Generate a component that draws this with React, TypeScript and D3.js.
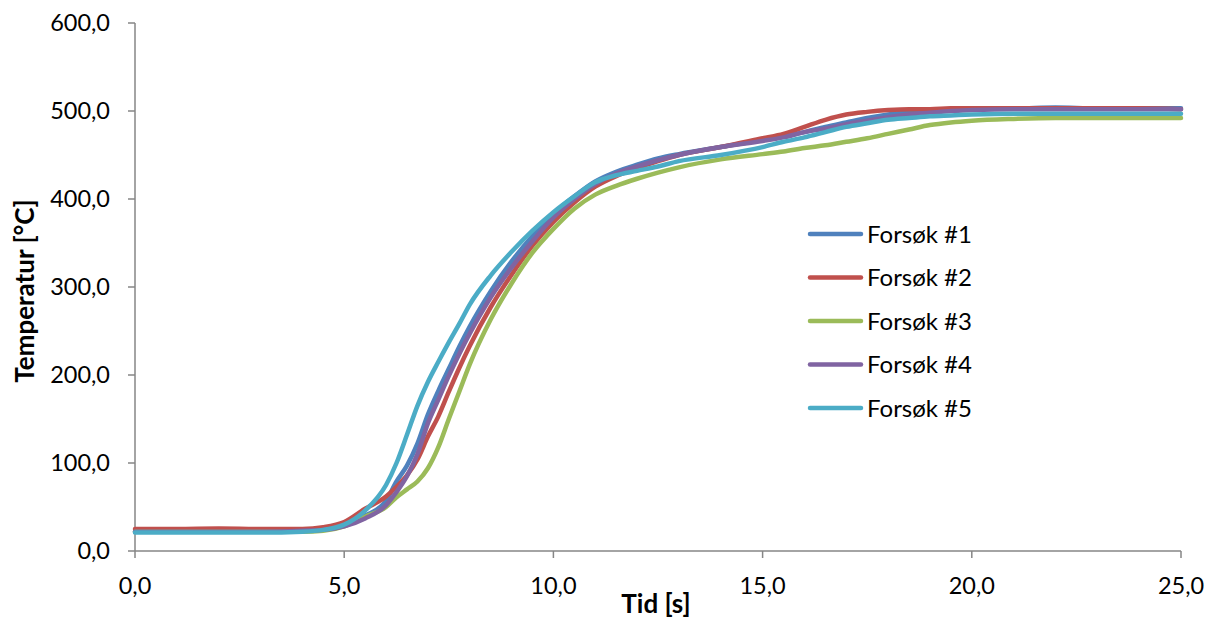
import React from "react";
import * as d3 from "d3";

const times = [0,1,2,3,4,4.5,5,5.5,6,6.25,6.5,6.75,7,7.25,7.5,7.75,8,8.5,9,9.5,10,10.5,11,11.5,12,12.5,13,14,15,15.5,16,16.5,17,17.5,18,18.5,19,19.5,20,21,22,23,24,25];

const forsok1 = [22,22,22,22,23,24,29,40,57,79,97,122,155,182,207,232,255,295,329,358,383,403,420,431,439,446,451,459,467,471,476,482,487,492,496,499,501,502,503,503,504,503,503,503];
const forsok2 = [25,25,25.5,25,25,27,33,48,62,73,86,104,130,153,181,208,233,277,314,347,374,396,414,426,435,443,450,459,469,474,482,490,496,499,501,502,502,503,503,503,503,503,503,502];
const forsok3 = [22,22,22,22,22,23,28,39,50,61,70,79,94,118,150,181,212,263,304,339,366,389,405,415,423,430,436,445,451,454,458,461,465,469,474,479,484,487,489,491,492,492,492,492];
const forsok4 = [22,22,22,22,23,24,28,37,52,67,85,110,145,172,199,224,247,288,322,352,379,400,417,429,437,444,450,459,466,470,476,480,485,489,493,496,498,500,501,502,502,502,502,502];
const forsok5 = [21,21,21,21,22,24,30,46,75,100,132,165,192,215,237,258,280,313,340,364,385,403,419,427,432,437,443,450,459,465,470,476,482,486,490,492,494,495,496,497,497,497,497,497];

const seriesNames = ["Forsøk #1","Forsøk #2","Forsøk #3","Forsøk #4","Forsøk #5"];
const seriesValues = [forsok1, forsok2, forsok3, forsok4, forsok5];
const colors = ["#4F81BD","#C0504D","#9BBB59","#8064A2","#4BACC6"];

const xTicks = [0,5,10,15,20,25];
const yTicks = [0,100,200,300,400,500,600];

const xTitle = "Tid [s]";
const yTitle = "Temperatur [°C]";

const W = 1209, H = 622;
const left = 135, right = 1181, top = 23, bottom = 551;
const FONT = "Lato, 'Open Sans', sans-serif";
const fmt = (v: number) => v.toFixed(1).replace(".", ",");

export default function App() {
  const x = d3.scaleLinear().domain([0, 25]).range([left, right]);
  const y = d3.scaleLinear().domain([0, 600]).range([bottom, top]);
  const line = d3.line<[number, number]>()
    .x(d => x(d[0]))
    .y(d => y(d[1]))
    .curve(d3.curveMonotoneX);
  const axisColor = "#868686";

  const legendY = [234, 277.5, 321, 364.5, 408];

  return (
    <svg width={W} height={H} style={{ position: "absolute", left: 0, top: 0, background: "#fff" }} fontFamily={FONT}>
      <rect x={0} y={0} width={W} height={H} fill="#fff" />
      <line x1={left} x2={left} y1={top} y2={bottom} stroke={axisColor} strokeWidth={1.5} />
      <line x1={left} x2={right} y1={bottom} y2={bottom} stroke={axisColor} strokeWidth={1.5} />
      {yTicks.map(t => (
        <g key={"y" + t}>
          <line x1={left - 7} x2={left} y1={y(t)} y2={y(t)} stroke={axisColor} strokeWidth={1.5} />
          <text x={110} y={y(t)} dy="0.36em" textAnchor="end" fontSize={23.5} fill="#000">{fmt(t)}</text>
        </g>
      ))}
      {xTicks.map(t => (
        <g key={"x" + t}>
          <line x1={x(t)} x2={x(t)} y1={bottom} y2={bottom + 7} stroke={axisColor} strokeWidth={1.5} />
          <text x={x(t)} y={594} textAnchor="middle" fontSize={23.5} fill="#000">{fmt(t)}</text>
        </g>
      ))}
      <text x={656} y={613} textAnchor="middle" fontSize={26} fontWeight="bold" fill="#000">{xTitle}</text>
      <text transform={`translate(34,291) rotate(-90)`} textAnchor="middle" fontSize={26} fontWeight="bold" fill="#000">{yTitle}</text>
      {seriesValues.map((vals, i) => (
        <path key={i} d={line(times.map((t, j) => [t, vals[j]] as [number, number])) || ""} fill="none" stroke={colors[i]} strokeWidth={4.5} strokeLinejoin="round" strokeLinecap="round" />
      ))}
      {seriesNames.map((n, i) => (
        <g key={n}>
          <line x1={810} x2={861} y1={legendY[i]} y2={legendY[i]} stroke={colors[i]} strokeWidth={4.5} strokeLinecap="round" />
          <text x={867} y={legendY[i]} dy="0.36em" fontSize={24} fill="#000">{n}</text>
        </g>
      ))}
    </svg>
  );
}
